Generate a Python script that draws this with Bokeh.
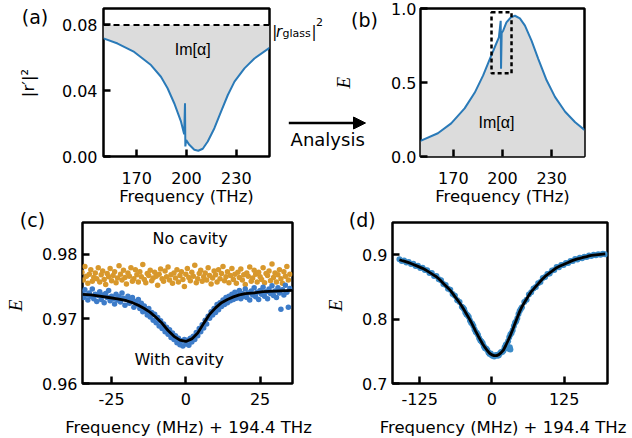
from math import pi
from bokeh.plotting import figure
from bokeh.layouts import row, column
from bokeh.models import (Label, Arrow, NormalHead, Span, FixedTicker,
                          NumeralTickFormatter, Range1d)
from bokeh.embed import file_html
from bokeh.resources import INLINE

# ---------------- data ----------------
# (a) reflectance |r'|^2 vs frequency (THz)
a_freq = [150, 158.5, 168.5, 178.6, 184.6, 188.6, 192.6, 196.7, 198.6, 199.1,
          199.3, 199.8, 201.7, 204.7, 207.1, 209.8, 212.8, 216.8, 220.8, 224.9,
          228.9, 234.9, 240.9, 250]
a_refl = [0.0718, 0.0687, 0.0636, 0.0556, 0.0485, 0.0415, 0.0324, 0.0212, 0.0135, 0.0324,
          0.0061, 0.0100, 0.0071, 0.0041, 0.0035, 0.0047, 0.0091, 0.0172, 0.0273, 0.0374,
          0.0455, 0.0536, 0.0596, 0.0661]
r_glass_sq = 0.08
a_xticks = [170, 200, 230]
a_yticks = [0, 0.04, 0.08]

# (b) E vs frequency (THz)
b_freq = [150, 160.6, 168.7, 176.9, 183.1, 188.2, 192.3, 195.7, 197.8, 198.9,
          199.1, 199.5, 200.4, 202.4, 205.1, 207.6, 210.6, 213.7, 217.7, 221.8,
          226.9, 232.0, 238.2, 244.3, 250]
b_E = [0.105, 0.157, 0.224, 0.325, 0.432, 0.548, 0.660, 0.750, 0.805, 0.917,
       0.593, 0.835, 0.850, 0.906, 0.940, 0.951, 0.933, 0.884, 0.783, 0.660,
       0.515, 0.403, 0.302, 0.231, 0.179]
b_box = [193.3, 205.5, 0.562, 0.975]   # left, right, bottom, top
b_xticks = [170, 200, 230]
b_yticks = [0, 0.5, 1.0]

# (c) E vs detuning (MHz), step 0.5 MHz starting at -35 MHz
c_start, c_step = -35.0, 0.5
c_nocav = [0.9772, 0.9760, 0.9781, 0.9766, 0.9755, 0.9769, 0.9776, 0.9758, 0.9764, 0.9771,
           0.9762, 0.9779, 0.9757, 0.9768, 0.9774, 0.9761, 0.9753, 0.9770, 0.9765, 0.9778,
           0.9759, 0.9767, 0.9773, 0.9756, 0.9763, 0.9782, 0.9769, 0.9760, 0.9775, 0.9764,
           0.9754, 0.9771, 0.9766, 0.9779, 0.9758, 0.9762, 0.9776, 0.9768, 0.9757, 0.9773,
           0.9765, 0.9784, 0.9761, 0.9756, 0.9770, 0.9767, 0.9775, 0.9759, 0.9763, 0.9772,
           0.9766, 0.9752, 0.9769, 0.9777, 0.9762, 0.9758, 0.9774, 0.9765, 0.9780, 0.9760,
           0.9768, 0.9755, 0.9771, 0.9763, 0.9776, 0.9757, 0.9767, 0.9773, 0.9761, 0.9750,
           0.9769, 0.9778, 0.9764, 0.9759, 0.9772, 0.9766, 0.9783, 0.9756, 0.9762, 0.9770,
           0.9775, 0.9758, 0.9765, 0.9771, 0.9760, 0.9779, 0.9767, 0.9754, 0.9763, 0.9774,
           0.9768, 0.9757, 0.9776, 0.9762, 0.9770, 0.9781, 0.9759, 0.9765, 0.9773, 0.9756,
           0.9767, 0.9778, 0.9761, 0.9769, 0.9755, 0.9772, 0.9764, 0.9777, 0.9760, 0.9768,
           0.9753, 0.9771, 0.9766, 0.9780, 0.9758, 0.9763, 0.9775, 0.9769, 0.9757, 0.9772,
           0.9765, 0.9761, 0.9779, 0.9756, 0.9770, 0.9767, 0.9774, 0.9759, 0.9785, 0.9764,
           0.9771, 0.9757, 0.9768, 0.9776, 0.9762, 0.9755, 0.9773, 0.9766, 0.9781, 0.9760,
           0.9769]
c_cav = [0.9741, 0.9733, 0.9745, 0.9737, 0.9729, 0.9740, 0.9735, 0.9746, 0.9731, 0.9738,
         0.9727, 0.9736, 0.9742, 0.9730, 0.9737, 0.9725, 0.9739, 0.9733, 0.9744, 0.9728,
         0.9735, 0.9731, 0.9723, 0.9738, 0.9729, 0.9734, 0.9726, 0.9740, 0.9732, 0.9721,
         0.9730, 0.9735, 0.9724, 0.9729, 0.9733, 0.9718, 0.9727, 0.9722, 0.9730, 0.9716,
         0.9724, 0.9711, 0.9720, 0.9713, 0.9706, 0.9716, 0.9703, 0.9710, 0.9698, 0.9707,
         0.9694, 0.9702, 0.9689, 0.9697, 0.9685, 0.9692, 0.9680, 0.9687, 0.9676, 0.9683,
         0.9671, 0.9678, 0.9668, 0.9674, 0.9663, 0.9670, 0.9660, 0.9666, 0.9658, 0.9668,
         0.9661, 0.9667, 0.9659, 0.9670, 0.9664, 0.9673, 0.9668, 0.9679, 0.9674, 0.9685,
         0.9680, 0.9691, 0.9686, 0.9698, 0.9692, 0.9704, 0.9701, 0.9711, 0.9706, 0.9716,
         0.9710, 0.9722, 0.9714, 0.9725, 0.9719, 0.9729, 0.9722, 0.9733, 0.9725, 0.9735,
         0.9728, 0.9738, 0.9730, 0.9741, 0.9732, 0.9736, 0.9744, 0.9731, 0.9739, 0.9735,
         0.9746, 0.9733, 0.9740, 0.9729, 0.9743, 0.9737, 0.9748, 0.9734, 0.9741, 0.9730,
         0.9744, 0.9738, 0.9749, 0.9735, 0.9742, 0.9731, 0.9746, 0.9739, 0.9751, 0.9736,
         0.9743, 0.9733, 0.9748, 0.9740, 0.9715, 0.9745, 0.9737, 0.9752, 0.9741, 0.9718,
         0.9747]
c_fit_x = [-34.8, -32, -29, -26, -23, -20, -18, -16, -14, -12, -10, -8, -6, -4, -2,
           0, 2, 4, 6, 8, 10, 12, 14, 16, 18, 20, 23, 26, 30, 35.9]
c_fit_y = [0.9738, 0.9737, 0.9735, 0.9733, 0.9731, 0.9728, 0.9725, 0.9721, 0.9716, 0.9710,
           0.9702, 0.9693, 0.9682, 0.9673, 0.9667, 0.9665, 0.9669, 0.9678, 0.9693, 0.9707,
           0.9717, 0.9725, 0.9730, 0.9734, 0.9737, 0.9739, 0.9740, 0.9742, 0.9743, 0.9744]
c_xticks = [-25, 0, 25]
c_yticks = [0.96, 0.97, 0.98]
c_ylabels = ["0.96", "0.97", "0.98"]

# (d) E vs detuning (MHz)
d_scan_x = list(range(-160, 197, 4))
d_scan_y = [0.8931, 0.8903, 0.8911, 0.8879, 0.8887, 0.8856, 0.8860, 0.8825, 0.8830, 0.8794,
            0.8799, 0.8762, 0.8759, 0.8717, 0.8714, 0.8670, 0.8668, 0.8617, 0.8602, 0.8545,
            0.8529, 0.8472, 0.8457, 0.8389, 0.8362, 0.8292, 0.8266, 0.8190, 0.8152, 0.8070,
            0.8031, 0.7945, 0.7894, 0.7800, 0.7754, 0.7667, 0.7624, 0.7549, 0.7522, 0.7460,
            0.7433, 0.7421, 0.7444, 0.7439, 0.7491, 0.7510, 0.7601, 0.7657, 0.7760, 0.7826,
            0.7942, 0.8013, 0.8127, 0.8183, 0.8264, 0.8302, 0.8383, 0.8416, 0.8477, 0.8497,
            0.8558, 0.8578, 0.8638, 0.8654, 0.8700, 0.8708, 0.8753, 0.8763, 0.8808, 0.8807,
            0.8841, 0.8839, 0.8873, 0.8872, 0.8904, 0.8904, 0.8932, 0.8926, 0.8951, 0.8945,
            0.8970, 0.8964, 0.8988, 0.8981, 0.9000, 0.8990, 0.9007, 0.8998, 0.9015, 0.9006]
d_extra_x = [-50, -46, -42, -38, -34, -30, -26, -22, -18, -14, -10, -6, -2,
             2, 6, 10, 14, 18, 22, 26, 30, 34, 38, 42, 46, 50, 27, 29, 31, 32]
d_extra_y = [0.8178, 0.8101, 0.8059, 0.7978, 0.7927, 0.7837, 0.7785, 0.7701, 0.7654, 0.7577,
             0.7545, 0.7481, 0.7464, 0.7429, 0.7439, 0.7431, 0.7471, 0.7489, 0.7562, 0.7619,
             0.7717, 0.7783, 0.7892, 0.7968, 0.8079, 0.8158, 0.7552, 0.7538, 0.7561, 0.7529]
d_fit_x = list(range(-160, 197, 4))
d_fit_y = [0.8922, 0.8910, 0.8899, 0.8888, 0.8876, 0.8864, 0.8849, 0.8834, 0.8819, 0.8803,
           0.8788, 0.8771, 0.8748, 0.8726, 0.8703, 0.8680, 0.8657, 0.8626, 0.8590, 0.8554,
           0.8518, 0.8482, 0.8446, 0.8399, 0.8350, 0.8302, 0.8254, 0.8200, 0.8140, 0.8080,
           0.8019, 0.7955, 0.7882, 0.7810, 0.7742, 0.7677, 0.7613, 0.7560, 0.7512, 0.7470,
           0.7445, 0.7432, 0.7433, 0.7448, 0.7480, 0.7520, 0.7590, 0.7668, 0.7748, 0.7837,
           0.7930, 0.8024, 0.8116, 0.8193, 0.8253, 0.8312, 0.8372, 0.8426, 0.8466, 0.8507,
           0.8547, 0.8588, 0.8628, 0.8663, 0.8690, 0.8717, 0.8744, 0.8772, 0.8799, 0.8816,
           0.8832, 0.8848, 0.8864, 0.8880, 0.8896, 0.8912, 0.8924, 0.8934, 0.8943, 0.8953,
           0.8962, 0.8971, 0.8981, 0.8988, 0.8992, 0.8996, 0.9000, 0.9004, 0.9008, 0.9012]
d_xticks = [-125, 0, 125]
d_yticks = [0.7, 0.8, 0.9]
d_ylabels = ["0.7", "0.8", "0.9"]

XLABEL_THZ = "Frequency (THz)"
XLABEL_MHZ = "Frequency (MHz) + 194.4 THz"

# ---------------- style ----------------
FONT = "DejaVu Sans"
CURVE = "#2a7ab8"
FILL = "#dcdcdc"
BLUE_PTS = "#3d7cc9"
ORANGE_PTS = "#d8982c"
BLUE_D = "#3b8bc8"

# canvas geometry of each data figure
GEO = {
    "a": dict(W=216, H=208, L=48, FW=166, T=8, FH=149, X=(150, 250), Y=(0, 0.09)),
    "b": dict(W=249, H=208, L=37, FW=164, T=8, FH=149, X=(150, 250), Y=(0, 1.0)),
    "c": dict(W=238, H=203, L=2, FW=210, T=14, FH=161, X=(-34.8, 35.9), Y=(0.96, 0.9849)),
    "d": dict(W=242, H=203, L=2, FW=215, T=14, FH=161, X=(-172, 200), Y=(0.7, 0.95)),
}


def ypix(key, v):
    g = GEO[key]
    y0, y1 = g["Y"]
    return g["T"] + (y1 - v) / (y1 - y0) * g["FH"]


def make(key, xticks, yticks, xfmt, yfmt, xlabel, xstand, xlstand, ystand, show_ylabels=True):
    g = GEO[key]
    p = figure(width=g["W"], height=g["H"], x_range=Range1d(*g["X"]), y_range=Range1d(*g["Y"]),
               output_backend="svg", toolbar_location=None, frame_align=False,
               min_border_left=g["L"], min_border_right=g["W"] - g["L"] - g["FW"],
               min_border_top=g["T"], min_border_bottom=g["H"] - g["T"] - g["FH"])
    p.outline_line_color = "black"
    p.outline_line_width = 2.5
    p.outline_line_alpha = 1.0
    p.grid.visible = False
    p.background_fill_color = "white"
    p.border_fill_color = "white"
    for ax in (p.xaxis[0], p.yaxis[0]):
        ax.axis_line_color = None
        ax.major_tick_in = 7
        ax.major_tick_out = 0
        ax.major_tick_line_width = 2.5
        ax.major_tick_line_color = "black"
        ax.minor_tick_line_color = None
        ax.major_label_text_font = FONT
        ax.major_label_text_font_size = "16px"
        ax.major_label_text_color = "black"
    p.xaxis.ticker = FixedTicker(ticks=xticks)
    p.yaxis.ticker = FixedTicker(ticks=yticks)
    p.xaxis.formatter = NumeralTickFormatter(format=xfmt)
    p.yaxis.formatter = NumeralTickFormatter(format=yfmt)
    p.xaxis.major_label_standoff = xstand
    p.yaxis.major_label_standoff = ystand
    if not show_ylabels:
        p.yaxis.major_label_overrides = {t: "" for t in yticks}
        p.yaxis.major_label_standoff = 0
    if xlabel:
        p.xaxis.axis_label = xlabel
        p.xaxis.axis_label_text_font = FONT
        p.xaxis.axis_label_text_font_size = "16.5px"
        p.xaxis.axis_label_text_font_style = "normal"
        p.xaxis.axis_label_text_color = "black"
        p.xaxis.axis_label_standoff = xlstand
    return p


def strip(W, H):
    s = figure(width=W, height=H, x_range=Range1d(0, W), y_range=Range1d(0, H),
               output_backend="svg", toolbar_location=None, x_axis_type=None, y_axis_type=None,
               frame_align=False,
               min_border_left=0, min_border_right=0, min_border_top=0, min_border_bottom=0)
    s.outline_line_color = None
    s.background_fill_color = "white"
    s.border_fill_color = "white"
    return s


def put(s, cx, cy, txt, size, align="center", baseline="middle", font=FONT,
        style="normal", angle=0.0):
    H = s.height
    s.add_layout(Label(x=cx, y=H - cy, text=txt, text_font=font, text_font_size=size,
                       text_font_style=style, text_align=align, text_baseline=baseline,
                       text_color="black", angle=angle))


def put_E(s, cx, cy):
    put(s, cx, cy, "E", "19px", font="Liberation Serif", style="italic", angle=pi / 2)


# ---------------- panel (a) ----------------
fa = make("a", a_xticks, a_yticks, "0", "0.00", XLABEL_THZ, 15, 0, 6)
fa.varea(x=a_freq, y1=a_refl, y2=[r_glass_sq] * len(a_freq), fill_color=FILL)
fa.line(a_freq, a_refl, line_color=CURVE, line_width=2)
fa.add_layout(Span(location=r_glass_sq, dimension="width", line_color="black",
                   line_width=2, line_dash="6 4"))
fa.add_layout(Label(x=203.7, y=0.0598, text="Im[α]", text_font="Liberation Sans",
                    text_font_size="16px", text_align="center", text_color="black"))

sa = strip(55, 208)
put(sa, 34.5, 16.5, "(a)", "19px")
put(sa, 28, 82.5, "|r′|²", "16.5px", angle=pi / 2)

# ---------------- middle strip: |r_glass|^2, arrow, (b), E ----------------
sm = strip(112, 208)
put(sm, 0.7, 31, "|", "15px", align="left", baseline="alphabetic")
put(sm, 4.5, 31, "r", "15px", align="left", baseline="alphabetic", style="italic")
put(sm, 11, 32.5, "glass", "11px", align="left", baseline="alphabetic")
put(sm, 40, 31, "|", "15px", align="left", baseline="alphabetic")
put(sm, 44.5, 21, "2", "11px", align="left", baseline="alphabetic")
sm.add_layout(Arrow(end=NormalHead(size=12, fill_color="black", line_color="black", line_width=1),
                    x_start=17.3, y_start=208 - 122.5, x_end=94, y_end=208 - 122.5,
                    line_color="black", line_width=2.5))
put(sm, 56.2, 139, "Analysis", "18px", baseline="alphabetic")
put(sm, 93, 19, "(b)", "19px")
put_E(sm, 71.5, 82.2)

# ---------------- panel (b) ----------------
fb = make("b", b_xticks, b_yticks, "0", "0.0", XLABEL_THZ, 15, 0, 4)
fb.varea(x=b_freq, y1=[0] * len(b_freq), y2=b_E, fill_color=FILL)
fb.line(b_freq, b_E, line_color=CURVE, line_width=2)
fb.quad(left=[b_box[0]], right=[b_box[1]], bottom=[b_box[2]], top=[b_box[3]],
        fill_color=None, line_color="black", line_width=2.5, line_dash="4 3")
fb.add_layout(Label(x=196.3, y=0.172, text="Im[α]", text_font="Liberation Sans",
                    text_font_size="16px", text_align="center", text_color="black"))

# ---------------- panel (c) ----------------
sc = strip(80, 203)
put(sc, 32, 11.2, "(c)", "19px")
put_E(sc, 15, 97)
for v, lab in zip(c_yticks, c_ylabels):
    put(sc, 77, ypix("c", v), lab, "16px", align="right")

fc = make("c", c_xticks, c_yticks, "0", "0.00", None, 9, 0, 0, show_ylabels=False)
c_x = [c_start + c_step * i for i in range(len(c_nocav))]
fc.scatter(c_x, c_nocav, size=5.5, fill_color=ORANGE_PTS, line_color=None)
c_xc = [c_start + c_step * i for i in range(len(c_cav))]
fc.scatter(c_xc, c_cav, size=5.5, fill_color=BLUE_PTS, line_color=None)
fc.line(c_fit_x, c_fit_y, line_color="black", line_width=2.8)
fc.add_layout(Label(x=1.41, y=0.98102, text="No cavity", text_font=FONT,
                    text_font_size="16px", text_align="center", text_color="black"))
fc.add_layout(Label(x=-2.24, y=0.96222, text="With cavity", text_font=FONT,
                    text_font_size="16px", text_align="center", text_color="black"))

# ---------------- panel (d) ----------------
sd = strip(72, 203)
put(sd, 43.7, 11.2, "(d)", "19px")
put_E(sd, 17, 97)
for v, lab in zip(d_yticks, d_ylabels):
    put(sd, 69, ypix("d", v), lab, "16px", align="right")

fd = make("d", d_xticks, d_yticks, "0", "0.0", None, 9, 0, 0, show_ylabels=False)
fd.scatter(d_scan_x + d_extra_x, d_scan_y + d_extra_y, size=6, fill_color=BLUE_D, line_color=None)
fd.line(d_fit_x, d_fit_y, line_color="black", line_width=2.8)

# ---------------- bottom strip: x-axis titles of (c) and (d) ----------------
sb = strip(632, 27)
put(sb, 188, 16, XLABEL_MHZ, "16.5px", baseline="alphabetic")
put(sb, 502.5, 16, XLABEL_MHZ, "16.5px", baseline="alphabetic")

layout = column(row(sa, fa, sm, fb), row(sc, fc, sd, fd), sb)
open("out.html", "w").write(file_html(layout, INLINE))
